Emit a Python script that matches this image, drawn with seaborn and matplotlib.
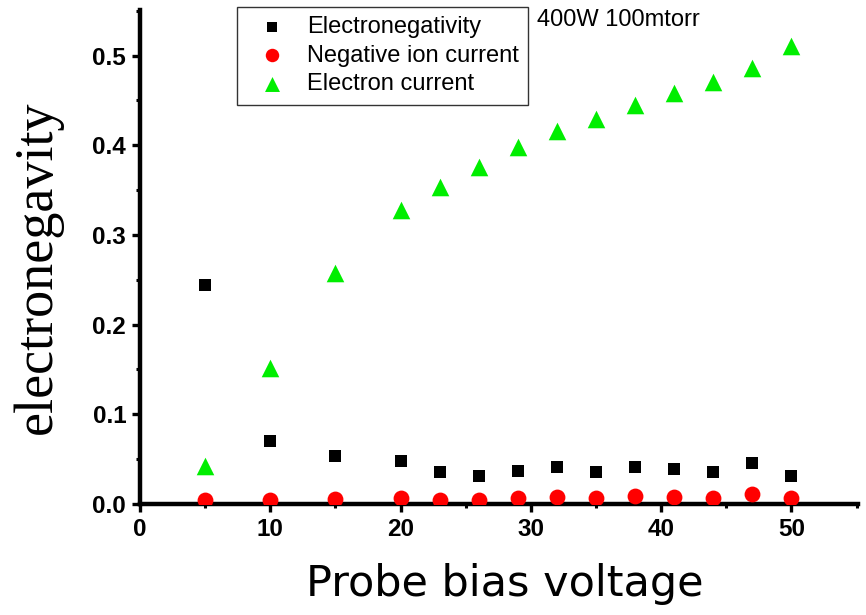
import matplotlib
matplotlib.use("Agg")
import matplotlib.pyplot as plt
import seaborn as sns
import pandas as pd
from matplotlib.ticker import MultipleLocator, FormatStrFormatter

voltage = [5, 10, 15, 20, 23, 26, 29, 32, 35, 38, 41, 44, 47, 50]
electronegativity = [0.244, 0.070, 0.054, 0.048, 0.036, 0.031, 0.037, 0.041, 0.036, 0.041, 0.039, 0.036, 0.046, 0.031]
negative_ion_current = [0.005, 0.005, 0.006, 0.007, 0.005, 0.005, 0.007, 0.008, 0.007, 0.009, 0.008, 0.007, 0.011, 0.007]
electron_current = [0.042, 0.152, 0.258, 0.328, 0.354, 0.376, 0.398, 0.416, 0.429, 0.445, 0.458, 0.471, 0.486, 0.511]

sns.set_style("ticks")
plt.rcParams['font.family'] = ['Liberation Sans', 'DejaVu Sans']
plt.rcParams.update({"text.color": "black", "axes.labelcolor": "black",
                     "xtick.color": "black", "ytick.color": "black"})

fig = plt.figure(figsize=(8.66, 6.15), dpi=100)
ax = fig.add_axes([0.1617, 0.1805, 0.829, 0.8035])

df = pd.DataFrame({"v": voltage, "en": electronegativity,
                   "ni": negative_ion_current, "ec": electron_current})

sns.scatterplot(data=df, x="v", y="en", marker="s", color="black", s=85,
                linewidth=0, label="Electronegativity", ax=ax, zorder=3)
sns.scatterplot(data=df, x="v", y="ni", marker="o", color="#ff0000", s=130,
                linewidth=0, label="Negative ion current", ax=ax, zorder=3)
sns.scatterplot(data=df, x="v", y="ec", marker="^", color="#00ee00", s=160,
                linewidth=0, label="Electron current", ax=ax, zorder=3)

ax.set_xlim(0, 55.1)
ax.set_ylim(0, 0.551)
ax.xaxis.set_major_locator(MultipleLocator(10))
ax.xaxis.set_minor_locator(MultipleLocator(5))
ax.yaxis.set_major_locator(MultipleLocator(0.1))
ax.yaxis.set_minor_locator(MultipleLocator(0.05))
ax.yaxis.set_major_formatter(FormatStrFormatter('%.1f'))

for side in ["top", "right"]:
    ax.spines[side].set_visible(False)
for side in ["left", "bottom"]:
    ax.spines[side].set_linewidth(3.2)
    ax.spines[side].set_color("black")

ax.tick_params(which="major", direction="out", length=6, width=2.4, colors="black",
               labelsize=17.5, pad=4)
ax.tick_params(which="minor", direction="out", length=3, width=2.2, colors="black")
for lab in ax.get_xticklabels() + ax.get_yticklabels():
    lab.set_fontweight("bold")

ax.set_xlabel("Probe bias voltage", fontsize=31, family=["DejaVu Sans"], color="black")
ax.xaxis.set_label_coords(0.508, -0.12)
ax.set_ylabel("electronegavity", fontsize=39, family=["Liberation Serif"], color="black")
ax.yaxis.set_label_coords(-0.107, 0.48)

leg = ax.legend(loc="upper left", bbox_to_anchor=(0.135, 1.006), borderaxespad=0,
                fontsize=17, frameon=True, fancybox=False, edgecolor="black",
                handletextpad=0.4, borderpad=0.4, labelspacing=0.27,
                handlelength=2.17, markerscale=0.85, labelcolor="black")
leg.get_frame().set_linewidth(1.0)

fig.text(0.620, 0.985, "400W 100mtorr", fontsize=17, ha="left", va="top", color="black")

fig.savefig("out.png", dpi=100)
